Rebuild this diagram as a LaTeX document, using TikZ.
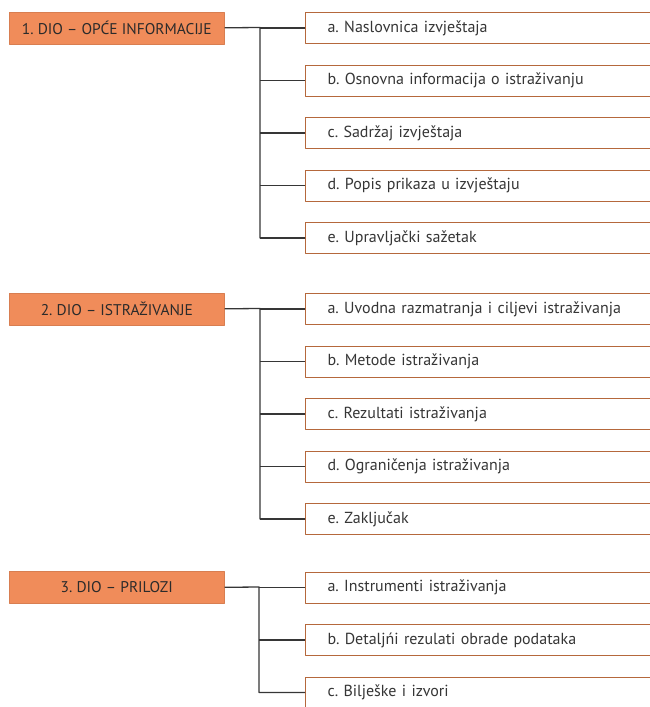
\documentclass[tikz,border=0pt]{standalone}
\usepackage{fontspec}
\setmainfont{PT Sans}
\frenchspacing
\usetikzlibrary{positioning, calc}

\definecolor{partfill}{HTML}{F08C5A}
\definecolor{boxline}{HTML}{B5683C}
\definecolor{inkgray}{HTML}{363636}

\tikzset{
  part/.style={draw=partfill!90!black, fill=partfill, line width=0.6pt,
    minimum width=215pt, minimum height=32pt, inner sep=0pt,
    anchor=north west, font=\fontsize{15.5}{18}\selectfont, text=inkgray!80!black},
  entry/.style={draw=boxline, fill=white, line width=1.1pt,
    minimum width=347pt, minimum height=31pt, text width=325pt,
    inner xsep=11pt, inner ysep=0pt, align=left, anchor=north west,
    font=\fontsize{16}{18}\selectfont, text=inkgray,
    execute at begin node=\hspace*{11pt}},
  link/.style={draw=inkgray, line width=1.3pt},
}

\begin{document}
\begin{tikzpicture}[x=1pt, y=-1pt, line join=round]
  \useasboundingbox (0,0) rectangle (649,707);
  % 1. dio
  \node[part] (p1) at (9,11.5) {1. DIO – OPĆE INFORMACIJE};
  \coordinate (j1) at (260,27.5);
  \foreach \k/\txt [count=\i from 0] in {a/{a. Naslovnica izvještaja},
      b/{b. Osnovna informacija o istraživanju}, c/{c. Sadržaj izvještaja},
      d/{d. Popis prikaza u izvještaju}, e/{e. Upravljački sažetak}} {
    \node[entry] (p1\k) at (305,12+52.5*\i) {\txt};
    \draw[link] (j1 |- p1\k.west) -- (p1\k.west);
  }
  \draw[link] (p1.east) -- (j1) |- (p1e.west);
  % 2. dio
  \node[part] (p2) at (9,292.5) {2. DIO – ISTRAŽIVANJE};
  \coordinate (j2) at (260,308.5);
  \foreach \k/\txt [count=\i from 0] in {a/{a. Uvodna razmatranja i ciljevi istraživanja},
      b/{b. Metode istraživanja}, c/{c. Rezultati istraživanja},
      d/{d. Ograničenja istraživanja}, e/{e. Zaključak}} {
    \node[entry] (p2\k) at (305,293+52.5*\i) {\txt};
    \draw[link] (j2 |- p2\k.west) -- (p2\k.west);
  }
  \draw[link] (p2.east) -- (j2) |- (p2e.west);
  % 3. dio
  \node[part] (p3) at (9,571) {3. DIO – PRILOZI};
  \coordinate (j3) at (259,587);
  \foreach \k/\txt [count=\i from 0] in {a/{a. Instrumenti istraživanja},
      b/{b. Detaljńi rezulati obrade podataka}, c/{c. Bilješke i izvori}} {
    \node[entry] (p3\k) at (305,571.5+52.5*\i) {\txt};
    \draw[link] (j3 |- p3\k.west) -- (p3\k.west);
  }
  \draw[link] (p3.east) -- (j3) |- (p3c.west);
\end{tikzpicture}
\end{document}
